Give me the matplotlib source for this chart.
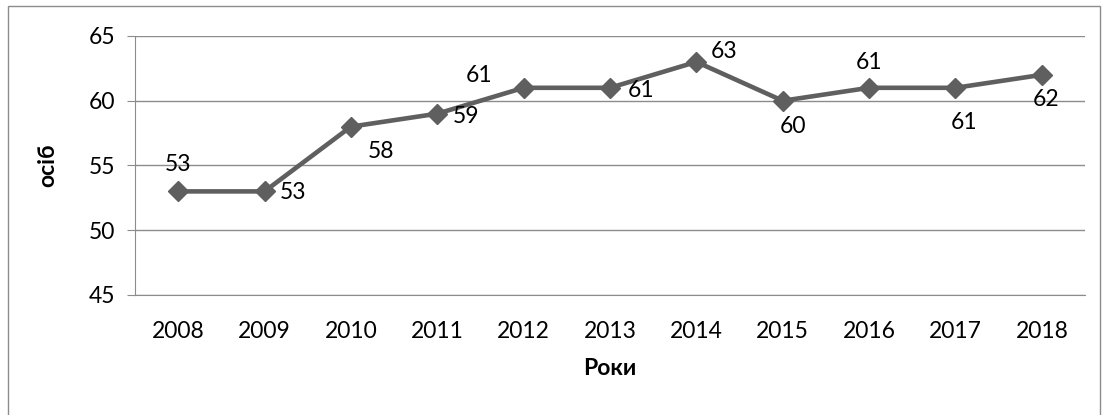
import matplotlib
matplotlib.use("Agg")
import matplotlib.pyplot as plt
from matplotlib.patches import Rectangle

# ── data ──────────────────────────────────────────────
years  = ["2008", "2009", "2010", "2011", "2012", "2013",
          "2014", "2015", "2016", "2017", "2018"]
values = [53, 53, 58, 59, 61, 61, 63, 60, 61, 61, 62]
y_ticks = [45, 50, 55, 60, 65]

# label offsets (px, y up) — style only
label_off = [(0, 27), (28, -1), (30, -25), (29, -3), (-45, 12), (31, -3),
             (28, 10), (10, -26), (0, 25), (9, -35), (4, -25)]

plt.rcParams["font.family"] = ["Lato", "DejaVu Sans"]
LINE = "#5f5f5f"
GRID = "#8c8c8c"
FS = 16.5

fig = plt.figure(figsize=(11.07, 4.15), dpi=100)
ax = fig.add_axes([135/1107, 1-295/415, 950/1107, 259/415])

x = list(range(len(years)))
ax.plot(x, values, color=LINE, lw=3.3, marker="D", ms=10,
        mfc=LINE, mec=LINE, zorder=3)

for i, v in enumerate(values):
    dx, dy = label_off[i]
    ax.annotate(str(v), (i, v), xytext=(dx*0.72, dy*0.72),
                textcoords="offset points", ha="center", va="center",
                fontsize=FS, color="black")

ax.set_xlim(-0.5, len(years)-0.5)
ax.set_ylim(45, 65)
ax.set_yticks(y_ticks)
ax.set_xticks(x)
ax.set_xticklabels(years)
ax.tick_params(axis="y", length=6, color=GRID, labelsize=FS, pad=8)
ax.tick_params(axis="x", length=0, labelsize=FS, pad=19)
ax.yaxis.grid(True, color=GRID, lw=1)
ax.set_axisbelow(True)
for s in ["top", "right"]:
    ax.spines[s].set_visible(False)
ax.spines["left"].set_color(GRID)
ax.spines["bottom"].set_color(GRID)

ax.set_xlabel("Роки", fontsize=FS, fontweight="bold", labelpad=11)
ax.set_ylabel("осіб", fontsize=FS, fontweight="bold", labelpad=22)

# outer chart border
fig.patches.append(Rectangle((8/1107, -0.05), 1092/1107, 1.05-6/415,
                             transform=fig.transFigure, fill=False,
                             edgecolor="#8c8c8c", lw=1))

fig.savefig("out.png", dpi=100)
